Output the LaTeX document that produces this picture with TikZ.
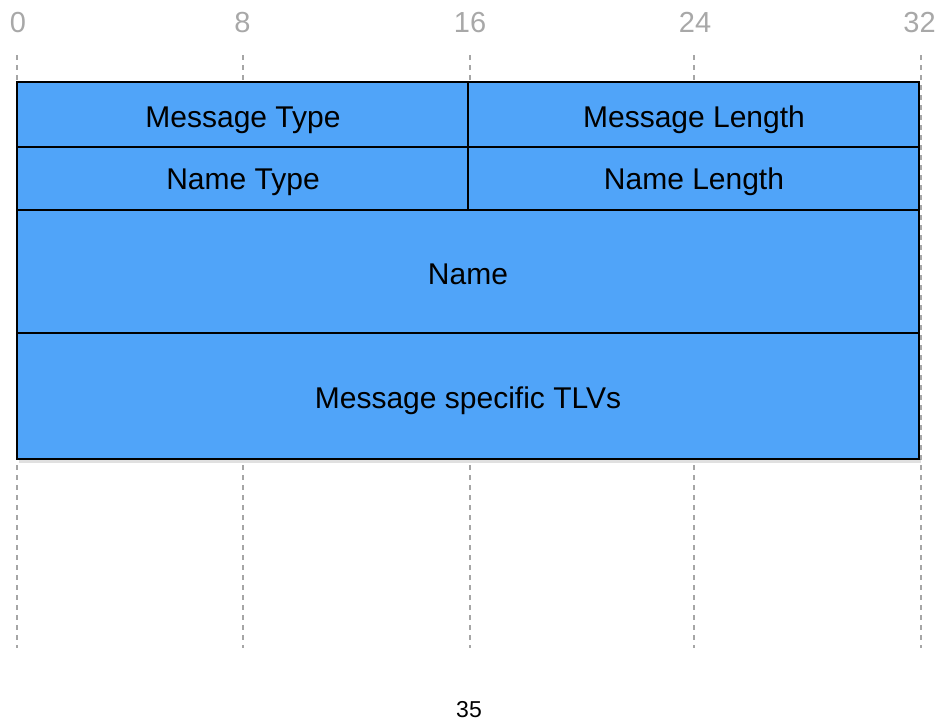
\documentclass[tikz,border=0pt]{standalone}
\usepackage{fontspec}
\setmainfont{Liberation Sans}
\definecolor{fieldblue}{HTML}{50A4F9}
\definecolor{guidegray}{HTML}{A6A6A6}
\definecolor{ticklabel}{HTML}{A8A8A8}
\tikzset{
  field/.style={draw=black, line width=1.4pt, fill=fieldblue, inner sep=0pt},
  fieldtext/.style={font=\fontsize{30}{34}\selectfont, text=black, inner sep=0pt, anchor=base},
  guide/.style={draw=guidegray, line width=2pt, dash pattern=on 5pt off 5pt},
  bitlabel/.style={font=\fontsize{29}{32}\selectfont, text=ticklabel, inner sep=0pt, anchor=base},
}
\begin{document}
\begin{tikzpicture}[x=1pt, y=-1pt]
\useasboundingbox (0,0) rectangle (942,723);
% bit-position guides
\foreach \gx/\nm in {17/g0, 243/g8, 470/g16, 694/g24, 921/g32} {
  \coordinate (\nm top) at (\gx,55);
  \coordinate (\nm bot) at (\gx,648);
  \draw[guide] (\nm top) -- (\nm bot);
}
% bit labels
\node[bitlabel] (l0)  at (18,32)    {0};
\node[bitlabel] (l8)  at (242.5,32) {8};
\node[bitlabel] (l16) at (470,32)   {16};
\node[bitlabel] (l24) at (695,32)   {24};
\node[bitlabel] (l32) at (919.5,32) {32};
% soft shadow under the frame
\fill[black, opacity=0.12] (19,459) rectangle (921,463);
% header fields
\node[field, minimum width=451pt, minimum height=65pt] (mtype) at (242.5,114.5) {};
\node[field, minimum width=451pt, minimum height=65pt] (mlen)  at (693.5,114.5) {};
\node[field, minimum width=451pt, minimum height=63pt] (ntype) at (242.5,178.5) {};
\node[field, minimum width=451pt, minimum height=63pt] (nlen)  at (693.5,178.5) {};
\node[field, minimum width=902pt, minimum height=123pt] (name) at (468,271.5) {};
\node[field, minimum width=902pt, minimum height=126pt] (tlvs) at (468,396) {};
% field names
\node[fieldtext] (tmtype) at (243,127) {Message Type};
\node[fieldtext] (tmlen)  at (694,127) {Message Length};
\node[fieldtext] (tntype) at (243,189) {Name Type};
\node[fieldtext] (tnlen)  at (694,189) {Name Length};
\node[fieldtext] (tname)  at (468,284) {Name};
\node[fieldtext] (ttlvs)  at (468,408) {Message specific TLVs};
% total length label
\node[font=\fontsize{23}{26}\selectfont, inner sep=0pt, anchor=base] (total) at (469,717) {35};
\end{tikzpicture}
\end{document}
